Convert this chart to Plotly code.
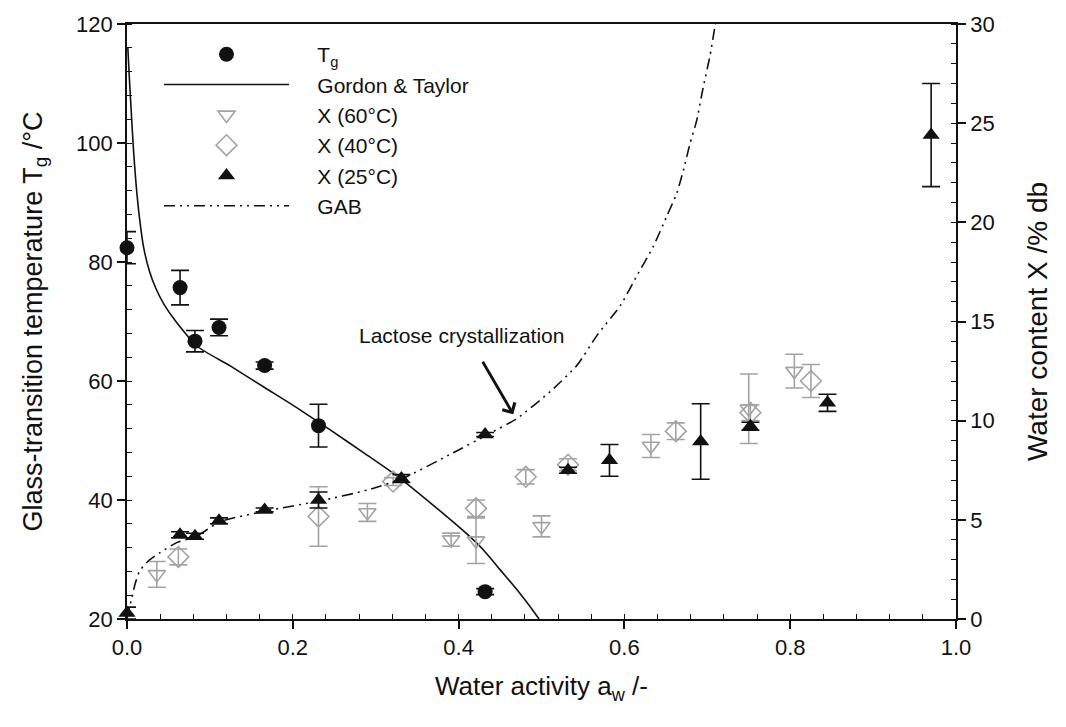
import plotly.graph_objects as go

# ---------------- data ----------------
tg_aw = [0.0, 0.064, 0.082, 0.111, 0.166, 0.231, 0.432]
tg_val = [82.4, 75.7, 66.7, 69.0, 62.6, 52.5, 24.6]
tg_err = [2.7, 2.9, 1.8, 1.4, 0.6, 3.6, 0.5]

gt_aw = [0.001, 0.003, 0.005, 0.008, 0.011, 0.015, 0.020, 0.027, 0.035, 0.045,
         0.059, 0.085, 0.125, 0.166, 0.206, 0.246, 0.287, 0.327, 0.367, 0.410,
         0.430, 0.450, 0.470, 0.485, 0.497]
gt_tg = [116.0, 110.5, 105.5, 98.5, 93.0, 87.5, 82.5, 78.5, 75.5, 72.8,
         70.0, 65.8, 62.5, 58.9, 55.4, 51.7, 47.8, 43.9, 39.4, 34.3,
         31.6, 28.3, 25.0, 22.3, 20.0]

x60_aw = [0.036, 0.290, 0.391, 0.421, 0.500, 0.632, 0.750, 0.805]
x60_val = [2.25, 5.37, 4.00, 3.95, 4.67, 8.72, 10.6, 12.5]
x60_err = [0.65, 0.45, 0.33, 1.15, 0.53, 0.58, 1.75, 0.85]

x40_aw = [0.062, 0.231, 0.321, 0.421, 0.481, 0.532, 0.662, 0.752, 0.825]
x40_val = [3.13, 5.17, 6.93, 5.58, 7.17, 7.78, 9.47, 10.4, 12.0]
x40_err = [0.40, 1.50, 0.20, 0.42, 0.36, 0.30, 0.42, 0.40, 0.83]

x25_aw = [0.0, 0.064, 0.082, 0.111, 0.166, 0.231, 0.331, 0.432, 0.532,
          0.582, 0.692, 0.752, 0.845, 0.970]
x25_val = [0.3, 4.25, 4.17, 4.95, 5.50, 6.00, 7.08, 9.30, 7.50,
           8.00, 8.95, 9.72, 10.9, 24.4]
x25_err = [0.3, 0.15, 0.15, 0.15, 0.10, 0.40, 0.20, 0.10, 0.15,
           0.80, 1.90, 0.20, 0.43, 2.6]

gab_aw = [0.0, 0.003, 0.006, 0.010, 0.015, 0.025, 0.040, 0.060, 0.085, 0.112,
          0.168, 0.232, 0.290, 0.333, 0.393, 0.434, 0.470, 0.510, 0.543, 0.567,
          0.595, 0.615, 0.635, 0.651, 0.663, 0.671, 0.679, 0.687, 0.695, 0.7035,
          0.7095, 0.712]
gab_x = [0.0, 0.6, 1.1, 1.8, 2.4, 2.9, 3.35, 3.85, 4.2, 4.9,
         5.45, 5.95, 6.5, 7.1, 8.37, 9.28, 10.1, 11.45, 12.8, 14.3,
         15.8, 17.3, 18.8, 20.3, 21.45, 22.6, 23.95, 25.1, 26.8, 28.45,
         29.95, 30.5]

x_ticks = [0.0, 0.2, 0.4, 0.6, 0.8, 1.0]
y1_ticks = [20, 40, 60, 80, 100, 120]
y2_ticks = [0, 5, 10, 15, 20, 25, 30]

legend_names = ["T<sub>g</sub>", "Gordon &amp; Taylor", "X (60°C)",
                "X (40°C)", "X (25°C)", "GAB"]

annot_text = "Lactose crystallization"
annot_pos = (0.404, 67.7)
annot_tail = (0.428, 63.5)
annot_head = (0.466, 54.4)

# ---------------- styling ----------------
FONT = "Liberation Sans, Arial, sans-serif"
BLACK = "#111111"
GRAY = "#a3a3a3"
PAD = "\u00a0\u00a0\u00a0\u00a0"

fig = go.Figure()

fig.add_trace(go.Scatter(
    x=tg_aw, y=tg_val, mode="markers", name=PAD + legend_names[0],
    marker=dict(symbol="circle", size=15, color=BLACK),
    error_y=dict(type="data", array=tg_err, color=BLACK, thickness=1.6, width=9),
    cliponaxis=False, yaxis="y"))

fig.add_trace(go.Scatter(
    x=gt_aw, y=gt_tg, mode="lines", name=PAD + legend_names[1],
    line=dict(color=BLACK, width=1.6, shape="spline", smoothing=0.6),
    yaxis="y"))

fig.add_trace(go.Scatter(
    x=x60_aw, y=x60_val, mode="markers", name=PAD + legend_names[2],
    marker=dict(symbol="triangle-down-open", size=15, color=GRAY,
                line=dict(color=GRAY, width=1.6)),
    error_y=dict(type="data", array=x60_err, color=GRAY, thickness=1.6, width=9),
    cliponaxis=False, yaxis="y2"))

fig.add_trace(go.Scatter(
    x=x40_aw, y=x40_val, mode="markers", name=PAD + legend_names[3],
    marker=dict(symbol="diamond-open", size=16, color=GRAY,
                line=dict(color=GRAY, width=1.6)),
    error_y=dict(type="data", array=x40_err, color=GRAY, thickness=1.6, width=9),
    cliponaxis=False, yaxis="y2"))

fig.add_trace(go.Scatter(
    x=x25_aw, y=x25_val, mode="markers", name=PAD + legend_names[4],
    marker=dict(symbol="triangle-up", size=15, color=BLACK),
    error_y=dict(type="data", array=x25_err, color=BLACK, thickness=1.6, width=9),
    cliponaxis=False, yaxis="y2"))

fig.add_trace(go.Scatter(
    x=gab_aw, y=gab_x, mode="lines", name=PAD + legend_names[5],
    line=dict(color=BLACK, width=1.6, dash="11px,5px,2px,5px,2px,5px",
              shape="spline", smoothing=0.6),
    yaxis="y2"))

fig.add_annotation(
    x=annot_head[0], y=annot_head[1], ax=annot_tail[0], ay=annot_tail[1],
    xref="x", yref="y", axref="x", ayref="y",
    showarrow=True, arrowhead=4, arrowsize=1.0, arrowwidth=2.8,
    arrowcolor=BLACK, text="")
fig.add_annotation(
    x=annot_pos[0], y=annot_pos[1], xref="x", yref="y", text=annot_text,
    showarrow=False, font=dict(family=FONT, size=21, color=BLACK))

axis_common = dict(
    showline=True, linecolor=BLACK, linewidth=1.6,
    ticks="outside", ticklen=8, tickwidth=1.6, tickcolor=BLACK,
    showgrid=False, zeroline=False,
    tickfont=dict(family=FONT, size=22, color=BLACK),
)

fig.update_layout(
    width=1066, height=727,
    margin=dict(l=127, r=110, t=19, b=108),
    paper_bgcolor="white", plot_bgcolor="white",
    font=dict(family=FONT, color=BLACK),
    showlegend=True,
    legend=dict(x=0.0386, y=0.983, xanchor="left", yanchor="top",
                bgcolor="rgba(0,0,0,0)", itemwidth=125,
                font=dict(family=FONT, size=21, color=BLACK),
                tracegroupgap=0),
    xaxis=dict(
        range=[0, 1], tickvals=x_ticks, ticktext=[f"{v:.1f}" for v in x_ticks],
        mirror=True,
        minor=dict(dtick=0.04, ticks="inside", ticklen=5, tickwidth=1.3,
                   tickcolor=BLACK),
        title=dict(text="Water activity a<sub>w</sub> /-", standoff=18,
                   font=dict(family=FONT, size=26, color=BLACK)),
        **axis_common),
    yaxis=dict(
        range=[20, 120], tickvals=y1_ticks, mirror=False,
        minor=dict(dtick=4, ticks="inside", ticklen=5, tickwidth=1.3,
                   tickcolor=BLACK),
        title=dict(text="Glass-transition temperature T<sub>g</sub> /°C",
                   standoff=26, font=dict(family=FONT, size=27, color=BLACK)),
        **axis_common),
    yaxis2=dict(
        range=[0, 30], tickvals=y2_ticks, overlaying="y", side="right",
        minor=dict(dtick=1, ticks="inside", ticklen=5, tickwidth=1.3,
                   tickcolor=BLACK),
        title=dict(text="Water content X /% db", standoff=34,
                   font=dict(family=FONT, size=28, color=BLACK)),
        **axis_common),
)

fig.write_html("out.html")
